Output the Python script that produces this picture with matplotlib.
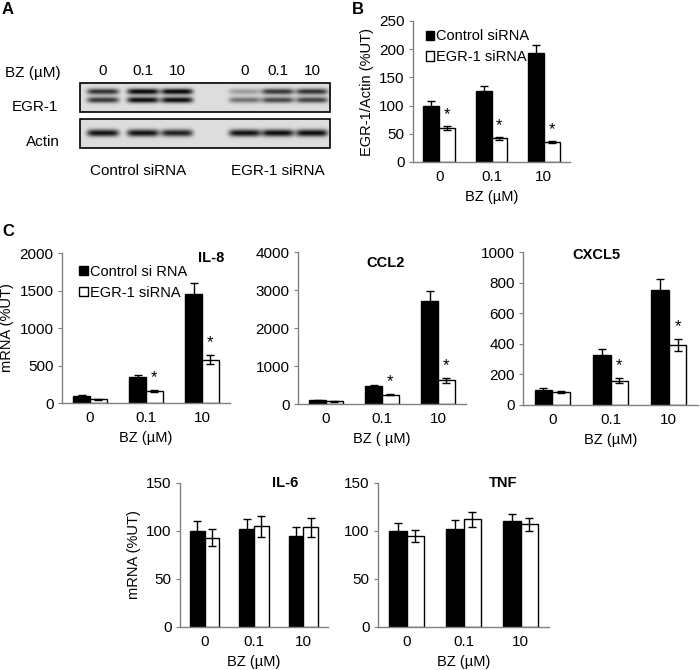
import numpy as np
import matplotlib
matplotlib.use("Agg")
import matplotlib.pyplot as plt
from matplotlib.patches import Patch, Rectangle

plt.rcParams['font.family'] = ['Liberation Sans', 'DejaVu Sans']
plt.rcParams['font.size'] = 10

W, H = 700, 670

doses = ['0', '0.1', '10']

# panel A - band darkness per lane (control x3, EGR-1 siRNA x3)
egr1_upper = [0.80, 1.00, 1.00, 0.30, 0.78, 0.80]
egr1_lower = [0.78, 0.98, 0.98, 0.50, 0.70, 0.72]
actin_band = [0.95, 0.95, 0.88, 0.95, 0.97, 0.97]

# panel B
b_ctrl = [100, 125, 193]
b_ctrl_err = [8, 10, 14]
b_egr = [60, 42, 35]
b_egr_err = [4, 3, 2]
b_sig = [True, True, True]

# panel C
il8_ctrl = [100, 350, 1450]
il8_ctrl_err = [10, 30, 150]
il8_egr = [50, 160, 580]
il8_egr_err = [5, 15, 60]
il8_sig = [False, True, True]

ccl2_ctrl = [100, 470, 2700]
ccl2_ctrl_err = [10, 40, 270]
ccl2_egr = [70, 250, 620]
ccl2_egr_err = [8, 20, 60]
ccl2_sig = [False, True, True]

cxcl5_ctrl = [100, 330, 750]
cxcl5_ctrl_err = [8, 35, 75]
cxcl5_egr = [85, 160, 390]
cxcl5_egr_err = [7, 15, 40]
cxcl5_sig = [False, True, True]

il6_ctrl = [100, 102, 95]
il6_ctrl_err = [10, 10, 9]
il6_egr = [93, 105, 104]
il6_egr_err = [9, 11, 10]

tnf_ctrl = [100, 102, 110]
tnf_ctrl_err = [8, 9, 8]
tnf_egr = [95, 112, 107]
tnf_egr_err = [6, 8, 7]

GREY = '#808080'
FS = 10.5


def px_axes(fig, x0, y0, x1, y1):
    # pixel box (top-left origin) -> figure fraction axes
    return fig.add_axes([x0 / W, 1 - y1 / H, (x1 - x0) / W, (y1 - y0) / H])


def bar_panel(ax, ctrl, ctrl_err, egr, egr_err, ymax, step, sig=None,
              title=None, title_xy=None, xlabel='BZ (\u00b5M)', ylabel=None):
    x = np.arange(len(doses))
    w = 0.3
    ekw = dict(ecolor='black', elinewidth=1, capsize=3, capthick=1)
    ax.bar(x - w / 2, ctrl, w, color='black', edgecolor='black', linewidth=1,
           yerr=ctrl_err, error_kw=ekw, zorder=2)
    ax.bar(x + w / 2, egr, w, color='white', edgecolor='black', linewidth=1,
           yerr=egr_err, error_kw=ekw, zorder=2)
    if sig is not None:
        for i, s in enumerate(sig):
            if s:
                ax.text(x[i] + w / 2, egr[i] + egr_err[i] + 0.08 * ymax, '*',
                        ha='center', va='center', fontsize=12)
    ax.set_xlim(-0.5, len(doses) - 0.5)
    ax.set_ylim(0, ymax)
    ax.set_yticks(np.arange(0, ymax + 1, step))
    ax.set_xticks(x)
    ax.set_xticklabels(doses)
    for sp in ['top', 'right']:
        ax.spines[sp].set_visible(False)
    for sp in ['left', 'bottom']:
        ax.spines[sp].set_color(GREY)
        ax.spines[sp].set_linewidth(1)
    ax.tick_params(axis='y', length=3, color=GREY, labelsize=FS + 0.5, pad=3)
    ax.tick_params(axis='x', length=0, labelsize=FS + 0.5, pad=6)
    ax.set_xlabel(xlabel, fontsize=FS, labelpad=4)
    if ylabel:
        ax.set_ylabel(ylabel, fontsize=FS)
    if title:
        ax.text(title_xy[0], title_xy[1], title, transform=ax.transAxes,
                ha='center', va='center', fontweight='bold', fontsize=FS)


def legend(ax, names, anchor):
    handles = [Patch(facecolor='black', edgecolor='black'),
               Patch(facecolor='white', edgecolor='black')]
    ax.legend(handles, names, loc='upper left', bbox_to_anchor=anchor,
              frameon=False, fontsize=FS, handlelength=0.6, handleheight=0.6,
              handletextpad=0.15, labelspacing=0.45, borderaxespad=0,
              borderpad=0)


fig = plt.figure(figsize=(W / 100, H / 100), dpi=100)

# ---------------- panel A: blot ----------------
axA = px_axes(fig, 0, 0, 345, 200)
axA.axis('off')

lane_x = [103, 143, 177, 245, 278, 312]


def blot_image(x0, x1, y0, y1, rows, half_w=16, sigma=3.0):
    xs = np.linspace(x0, x1, int((x1 - x0) * 4))
    ys = np.linspace(y0, y1, int((y1 - y0) * 4))
    X, Y = np.meshgrid(xs, ys)
    dark = np.zeros_like(X)
    for yc, amps in rows:
        for cx, a in zip(lane_x, amps):
            dark += a * np.exp(-((X - cx) / half_w) ** 6) * np.exp(-((Y - yc) / sigma) ** 2)
    return 0.87 - 0.85 * np.clip(dark, 0, 1)


img1 = blot_image(80, 330, 83, 112, [(91.5, egr1_upper), (100, egr1_lower)])
axA.imshow(img1, cmap='gray', vmin=0, vmax=1, extent=[80, 330, 112, 83],
           aspect='auto', interpolation='bilinear')
axA.add_patch(Rectangle((80, 83), 250, 29, fill=False, edgecolor='black', linewidth=1.2))

img2 = blot_image(80, 330, 119, 148, [(133, actin_band)], sigma=3.6)
axA.imshow(img2, cmap='gray', vmin=0, vmax=1, extent=[80, 330, 148, 119],
           aspect='auto', interpolation='bilinear')
axA.add_patch(Rectangle((80, 119), 250, 29, fill=False, edgecolor='black', linewidth=1.2))

axA.text(33, 73, 'BZ (\u00b5M)', ha='center', va='center', fontsize=FS + 0.5)
for cx, d in zip(lane_x, doses + doses):
    axA.text(cx, 71, d, ha='center', va='center', fontsize=FS + 0.5)
axA.text(35, 107, 'EGR-1', ha='center', va='center', fontsize=FS + 0.5)
axA.text(43, 142, 'Actin', ha='center', va='center', fontsize=FS + 0.5)
axA.text(138, 171, 'Control siRNA', ha='center', va='center', fontsize=FS + 0.5)
axA.text(278, 171, 'EGR-1 siRNA', ha='center', va='center', fontsize=FS + 0.5)
axA.set_xlim(0, 345)
axA.set_ylim(200, 0)

# ---------------- panel B ----------------
axB = px_axes(fig, 413, 21, 570, 162)
bar_panel(axB, b_ctrl, b_ctrl_err, b_egr, b_egr_err, 250, 50, sig=b_sig,
          ylabel='EGR-1/Actin (%UT)')
legend(axB, ['Control siRNA', 'EGR-1 siRNA'], (0.08, 0.94))

# ---------------- panel C ----------------
ax1 = px_axes(fig, 62, 253, 230, 403)
bar_panel(ax1, il8_ctrl, il8_ctrl_err, il8_egr, il8_egr_err, 2000, 500,
          sig=il8_sig, title='IL-8', title_xy=(0.89, 0.97), ylabel='mRNA (%UT)')
legend(ax1, ['Control si RNA', 'EGR-1 siRNA'], (0.10, 0.92))

ax2 = px_axes(fig, 298, 252, 466, 404)
bar_panel(ax2, ccl2_ctrl, ccl2_ctrl_err, ccl2_egr, ccl2_egr_err, 4000, 1000,
          sig=ccl2_sig, title='CCL2', title_xy=(0.52, 0.93), xlabel='BZ ( \u00b5M)')

ax3 = px_axes(fig, 523, 252, 698, 405)
bar_panel(ax3, cxcl5_ctrl, cxcl5_ctrl_err, cxcl5_egr, cxcl5_egr_err, 1000, 200,
          sig=cxcl5_sig, title='CXCL5', title_xy=(0.42, 0.98))

ax4 = px_axes(fig, 180, 483, 328, 627)
bar_panel(ax4, il6_ctrl, il6_ctrl_err, il6_egr, il6_egr_err, 150, 50,
          title='IL-6', title_xy=(0.71, 1.0), ylabel='mRNA (%UT)')

ax5 = px_axes(fig, 378, 483, 549, 627)
bar_panel(ax5, tnf_ctrl, tnf_ctrl_err, tnf_egr, tnf_egr_err, 150, 50,
          title='TNF', title_xy=(0.73, 1.0))

# panel letters
fig.text(2 / W, 1 - 10 / H, 'A', fontweight='bold', fontsize=12, va='center')
fig.text(352 / W, 1 - 9 / H, 'B', fontweight='bold', fontsize=12, va='center')
fig.text(2 / W, 1 - 232 / H, 'C', fontweight='bold', fontsize=12, va='center')

fig.savefig('out.png', dpi=100)
